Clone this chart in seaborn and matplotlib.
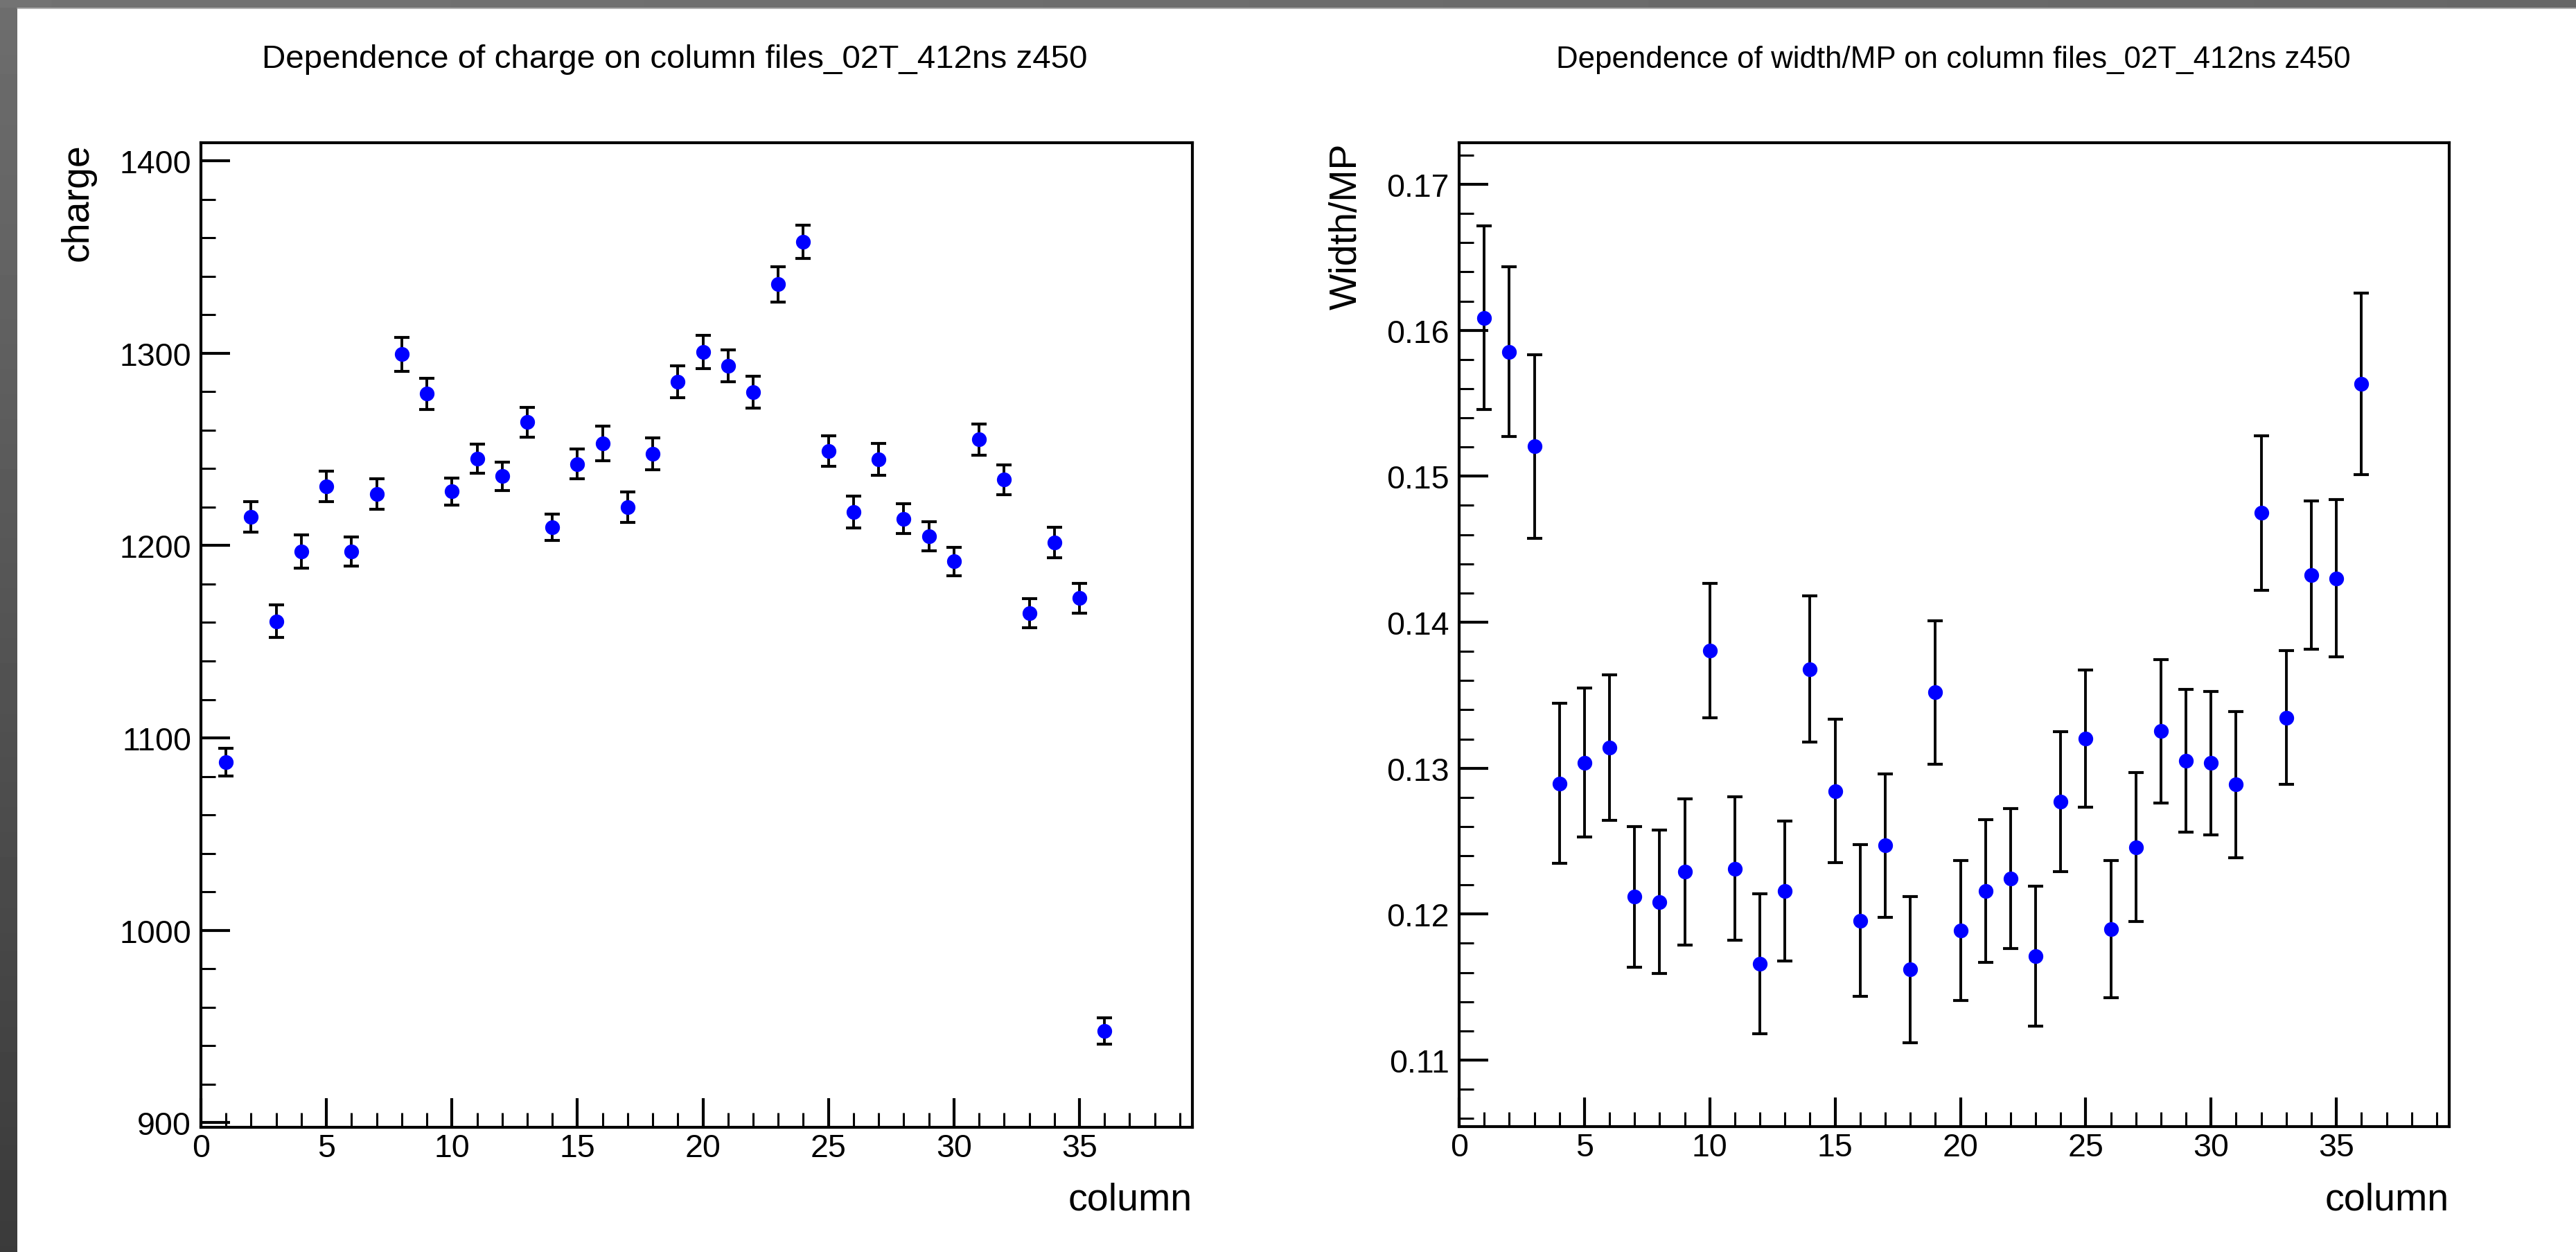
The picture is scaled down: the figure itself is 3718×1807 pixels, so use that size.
import matplotlib
matplotlib.use("Agg")
import matplotlib.pyplot as plt
import seaborn as sns
import numpy as np
import pandas as pd
from matplotlib.ticker import MultipleLocator, FormatStrFormatter

# ---------------- data ----------------
columns = list(range(1, 37))

charge = [1087.4, 1214.9, 1160.7, 1196.9, 1230.8, 1196.9, 1226.7, 1299.4, 1278.9,
          1228.2, 1245.3, 1236.0, 1264.1, 1209.4, 1242.4, 1253.1, 1220.1, 1247.6,
          1285.2, 1300.6, 1293.3, 1279.7, 1335.9, 1357.9, 1249.0, 1217.5, 1244.7,
          1214.0, 1204.8, 1191.7, 1255.1, 1234.3, 1164.8, 1201.5, 1172.6, 947.6]
charge_err = [7.3, 8.0, 8.6, 8.8, 7.9, 7.7, 7.9, 8.9, 8.2, 7.0, 7.6, 7.3, 7.7, 6.9,
              7.7, 8.9, 7.9, 8.3, 8.2, 8.6, 8.3, 8.3, 9.2, 8.5, 7.9, 8.2, 8.3, 7.9,
              7.6, 7.5, 8.2, 7.7, 7.6, 7.9, 7.6, 6.9]

width_mp = [0.16085, 0.15853, 0.15204, 0.12896, 0.13038, 0.13141, 0.12118, 0.12084,
            0.12290, 0.13807, 0.12312, 0.11658, 0.12157, 0.13678, 0.12844, 0.11955,
            0.12470, 0.11620, 0.13519, 0.11886, 0.12157, 0.12243, 0.11710, 0.12771,
            0.13201, 0.11899, 0.12458, 0.13253, 0.13051, 0.13034, 0.12887, 0.14748,
            0.13347, 0.14323, 0.14301, 0.15633]
width_err = [0.0063, 0.0058, 0.0063, 0.0055, 0.0051, 0.0050, 0.0048, 0.0049, 0.0050,
             0.0046, 0.0049, 0.0048, 0.0048, 0.0050, 0.0049, 0.0052, 0.0049, 0.0050,
             0.0049, 0.0048, 0.0049, 0.0048, 0.0048, 0.0048, 0.0047, 0.0047, 0.0051,
             0.0049, 0.0049, 0.0049, 0.0050, 0.0053, 0.0046, 0.0051, 0.0054, 0.0062]

titles = ["Dependence of charge on column files_02T_412ns z450",
          "Dependence of width/MP on column files_02T_412ns z450"]
ylabels = ["charge", "Width/MP"]
xlabel = "column"

# ---------------- style ----------------
sns.set_theme(style="white")
plt.rcParams["font.family"] = ["Liberation Sans", "DejaVu Sans"]

W, H = 3718, 1808
fig = plt.figure(figsize=(W / 100, H / 100), dpi=100)
fig.patch.set_facecolor("white")


def px_rect(x0, y0, x1, y1):
    return [x0 / W, 1 - y1 / H, (x1 - x0) / W, (y1 - y0) / H]


# gray frame (canvas border)
gax = fig.add_axes([0, 0, 25 / W, 1])
gax.imshow(np.linspace(0.43, 0.23, 200)[:, None], cmap="gray", vmin=0, vmax=1,
           aspect="auto", extent=[0, 1, 0, 1])
gax.axis("off")
tax = fig.add_axes([0, 1 - 12 / H, 1, 12 / H])
tax.imshow(np.linspace(0.45, 0.40, 200)[None, :], cmap="gray", vmin=0, vmax=1,
           aspect="auto", extent=[0, 1, 0, 1])
tax.axis("off")
fig.add_artist(plt.Line2D([25 / W, 1], [1 - 13 / H, 1 - 13 / H], color="#a0a0a0", lw=1.2))

ax1 = fig.add_axes(px_rect(290, 207, 1721, 1628))
ax2 = fig.add_axes(px_rect(2106, 207, 3535, 1627))

df1 = pd.DataFrame({"column": columns, "value": charge, "err": charge_err})
df2 = pd.DataFrame({"column": columns, "value": width_mp, "err": width_err})

configs = [
    (ax1, df1, (897.6, 1409.4), 100, 20, "%d"),
    (ax2, df2, (0.10544, 0.17285), 0.01, 0.002, "%.2f"),
]

for ax, df, ylim, ymaj, ymin, fmt in configs:
    ax.set_facecolor("white")
    ax.errorbar(df["column"], df["value"], yerr=df["err"], fmt="none",
                ecolor="black", elinewidth=2.8, capsize=8, capthick=3, zorder=2)
    sns.scatterplot(data=df, x="column", y="value", ax=ax, color="#0000ff",
                    s=235, linewidth=0, zorder=3, legend=False)
    ax.set_xlim(0, 39.5)
    ax.set_ylim(*ylim)
    ax.xaxis.set_major_locator(MultipleLocator(5))
    ax.xaxis.set_minor_locator(MultipleLocator(1))
    ax.yaxis.set_major_locator(MultipleLocator(ymaj))
    ax.yaxis.set_minor_locator(MultipleLocator(ymin))
    ax.yaxis.set_major_formatter(FormatStrFormatter(fmt))
    ax.tick_params(which="both", direction="in", top=False, right=False,
                   left=True, bottom=True, colors="black")
    ax.tick_params(which="major", length=30, width=3, labelsize=33.5)
    ax.tick_params(which="minor", length=15, width=2.2)
    ax.tick_params(axis="x", which="major", pad=6)
    ax.tick_params(axis="y", which="major", pad=10)
    for sp in ax.spines.values():
        sp.set_color("black")
        sp.set_linewidth(3)
        sp.set_visible(True)
    ax.set_xlabel("")
    ax.set_ylabel("")
    ax.grid(False)

# titles
fig.text(974 / W, 1 - 98 / H, titles[0], ha="center", va="baseline", fontsize=34.2, color="black")
fig.text(2819 / W, 1 - 98 / H, titles[1], ha="center", va="baseline", fontsize=31.6, color="black")

# y labels
fig.text(113 / W, 1 - 207 / H, ylabels[0], rotation=90, ha="center", va="top", fontsize=40, color="black")
fig.text(1944 / W, 1 - 207 / H, ylabels[1], rotation=90, ha="center", va="top", fontsize=40, color="black")

# x labels
fig.text(1721 / W, 1 - 1747 / H, xlabel, ha="right", va="baseline", fontsize=40, color="black")
fig.text(3535 / W, 1 - 1747 / H, xlabel, ha="right", va="baseline", fontsize=40, color="black")

fig.savefig("out.png", dpi=100)
